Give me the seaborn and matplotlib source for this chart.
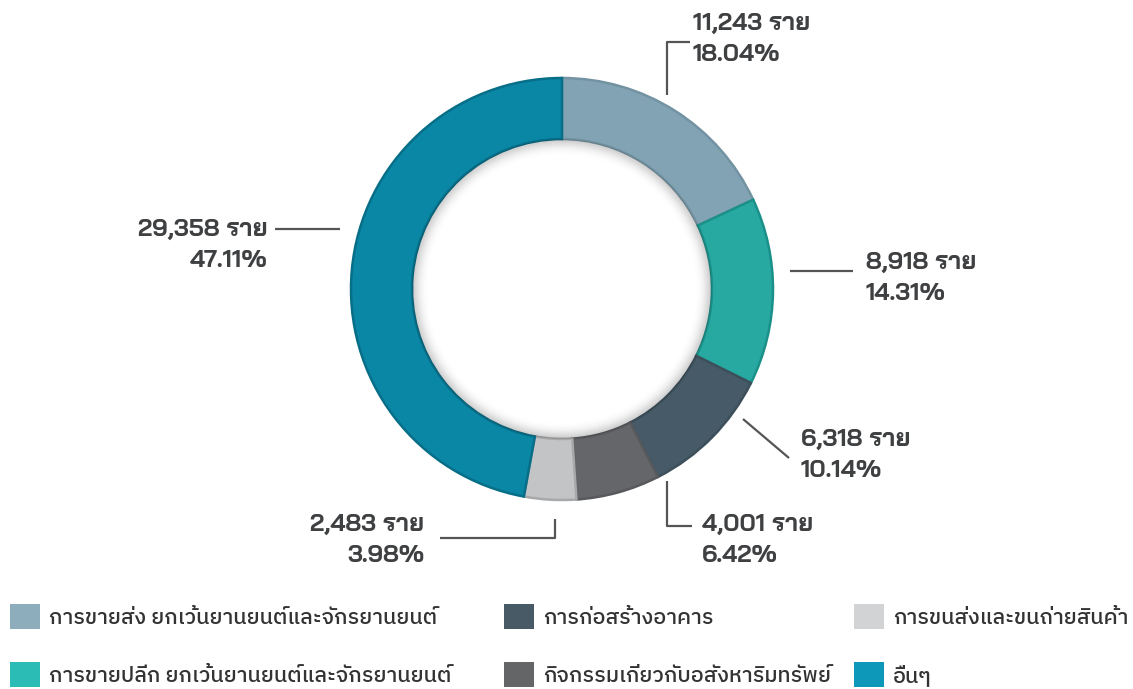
import matplotlib
matplotlib.use("Agg")
import matplotlib.pyplot as plt
import seaborn as sns
from matplotlib.patches import Patch, Circle
from matplotlib import font_manager as fm

# ------------------- data -------------------
categories = [
    "การขายส่ง ยกเว้นยานยนต์และจักรยานยนต์",
    "การขายปลีก ยกเว้นยานยนต์และจักรยานยนต์",
    "การก่อสร้างอาคาร",
    "กิจกรรมเกี่ยวกับอสังหาริมทรัพย์",
    "การขนส่งและขนถ่ายสินค้า",
    "อื่นๆ",
]
counts = [11243, 8918, 6318, 4001, 2483, 29358]
unit = "ราย"

pie_colors = ["#82A3B3", "#27A9A2", "#465B67", "#656669", "#C3C4C6", "#0B87A6"]
rim_colors = ["#7393A2", "#1A9089", "#3C4F5A", "#58595C", "#A7A8AA", "#076E88"]
legend_colors = ["#8DADBD", "#2BBDB5", "#475A66", "#646567", "#D1D3D4", "#0D98BA"]

sns.set_theme(style="white")
names = {f.name for f in fm.fontManager.ttflist}
label_font = [f for f in ["Bai Jamjuree", "IBM Plex Sans Thai", "Kanit"] if f in names] + ["DejaVu Sans"]
legend_font = [f for f in ["IBM Plex Sans Thai", "Kanit", "Prompt"] if f in names] + ["DejaVu Sans"]
plt.rcParams["font.family"] = legend_font

W, H = 1133, 689
fig = plt.figure(figsize=(W / 100, H / 100), dpi=100)
ax = fig.add_axes([0, 0, 1, 1])

cx, cy, R, ring = 562, H - 289, 211, 61
wedges, _ = ax.pie(counts, colors=pie_colors, startangle=90, counterclock=False,
                   center=(cx, cy), radius=R, frame=True,
                   wedgeprops=dict(width=ring, linewidth=1.8))
for w, c in zip(wedges, rim_colors):
    w.set_edgecolor(c)
ax.set_xlim(0, W)
ax.set_ylim(0, H)
ax.set_aspect("equal")
ax.axis("off")

# soft inner shadow of the hole
r_in = R - ring
for i in range(16):
    ax.add_patch(Circle((cx, cy), r_in - 0.9 - i, fill=False, lw=1.2,
                        ec="black", alpha=0.13 * (1 - i / 16) ** 2, zorder=3))

# ------------------- labels with leader lines -------------------
total = sum(counts)
label_pos = [  # text anchor (px), alignment, leader line (px)
    ((693, 39), "left", [(667, 95), (667, 42), (690, 42)]),
    ((866, 278), "left", [(790, 271), (853, 271)]),
    ((801, 455), "left", [(743, 419), (789, 458)]),
    ((702, 540), "left", [(667, 481), (667, 526), (692, 526)]),
    ((424, 540), "right", [(555, 519), (555, 538), (440, 538)]),
    ((268, 245), "right", [(340, 229), (275, 229)]),
]
for n, ((tx, ty), ha, line) in zip(counts, label_pos):
    xs = [p[0] for p in line]
    ys = [H - p[1] for p in line]
    ax.plot(xs, ys, color="#555555", lw=1.6, solid_capstyle="butt")
    ax.text(tx, H - ty, f"{n:,} {unit}\n{n / total * 100:.2f}%", ha=ha, va="center",
            fontsize=17.5, fontweight="bold", color="#3F4042",
            family=label_font, linespacing=1.55, multialignment=ha)

# ------------------- legend in three columns -------------------
col_x = [10, 504, 854]
for k, x0 in enumerate(col_x):
    idx = [2 * k, 2 * k + 1]
    handles = [Patch(facecolor=legend_colors[i], edgecolor="none") for i in idx]
    fig.legend(handles, [categories[i] for i in idx], loc="upper left",
               bbox_to_anchor=(x0 / W, 1 - 604 / H), frameon=False,
               prop=dict(size=15.5, weight="medium", family=legend_font),
               handlelength=1.4, handleheight=1.4,
               handletextpad=0.4, labelspacing=1.55, borderpad=0,
               borderaxespad=0, labelcolor="#333333")

fig.savefig("out.png", dpi=100)
